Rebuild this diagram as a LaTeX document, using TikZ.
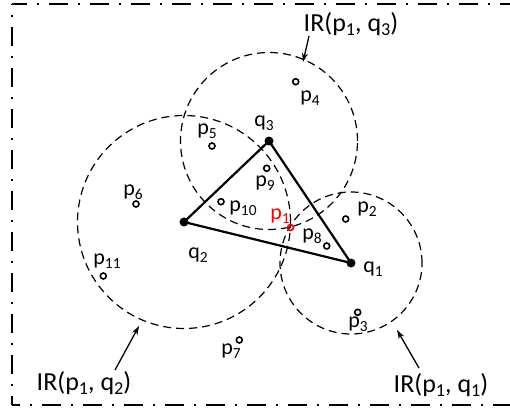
\documentclass[tikz,border=0pt]{standalone}
\usepackage{fontspec}
\setmainfont{Carlito}
\usepackage{graphicx}
\usetikzlibrary{arrows.meta}
\newcommand\sbs[1]{\raisebox{-0.35ex}{\scalebox{0.7}{#1}}}
\tikzset{
 irc/.style={dash pattern=on 8pt off 5pt, line width=1.2pt},
 opt/.style={circle, draw, line width=1.6pt, inner sep=0pt, minimum size=6pt},
 qv/.style={circle, fill, inner sep=0pt, minimum size=9pt},
 lbl/.style={inner sep=0pt, font=\fontsize{22}{26}\selectfont},
 irl/.style={inner sep=0pt, font=\fontsize{26}{30}\selectfont},
 arr/.style={-{Stealth[length=9pt,width=6pt]}, line width=1.3pt},
 framel/.style={line width=2.5pt, dash pattern=on 19pt off 10pt on 2pt off 10pt},
 tri/.style={line width=2.2pt}
}
\begin{document}
\begin{tikzpicture}[x=1pt,y=-1pt]
\useasboundingbox (0,0) rectangle (510,409);
% frame
\draw[framel, dash phase=4pt] (12,4) -- (530,4);
\draw[framel, dash phase=18pt] (12,4) -- (12,405);
\draw[framel, dash phase=11pt] (12,405) -- (530,405);
% vertices
\coordinate (q1) at (351,263);
\coordinate (q2) at (184,222);
\coordinate (q3) at (269,141);
% circles
\draw[irc] (q3) circle (88.5pt);
\draw[irc] (q2) circle (106.5pt);
\draw[irc] (q1) circle (71pt);
% triangle
\draw[tri] (q1) -- (q2) -- (q3) -- cycle;
\node[qv] (v1) at (q1) {};
\node[qv] (v2) at (q2) {};
\node[qv] (v3) at (q3) {};
% points
\node[opt, draw=red] (p1) at (290.5,227.5) {};
\node[opt] (p2) at (345.7,219) {};
\node[opt] (p3) at (357.7,312.3) {};
\node[opt] (p4) at (295.7,81.7) {};
\node[opt] (p5) at (212,146) {};
\node[opt] (p6) at (136,204) {};
\node[opt] (p7) at (239.3,340) {};
\node[opt] (p8) at (326.7,246) {};
\node[opt] (p9) at (266.7,168.3) {};
\node[opt] (p10) at (221,201.7) {};
\node[opt] (p11) at (103.3,276) {};
% labels
\node[lbl] (lq3) at (264,123) {q\sbs{3}};
\node[lbl] (lq2) at (198,255) {q\sbs{2}};
\node[lbl] (lq1) at (373,269) {q\sbs{1}};
\node[lbl, text=red] (lp1) at (280,216) {p\sbs{1}};
\node[lbl] (lp2) at (367,209) {p\sbs{2}};
\node[lbl] (lp3) at (358,324) {p\sbs{3}};
\node[lbl] (lp4) at (310,98) {p\sbs{4}};
\node[lbl] (lp5) at (207,131) {p\sbs{5}};
\node[lbl] (lp6) at (133,192) {p\sbs{6}};
\node[lbl] (lp7) at (231,351) {p\sbs{7}};
\node[lbl] (lp8) at (312,236) {p\sbs{8}};
\node[lbl] (lp9) at (265,183) {p\sbs{9}};
\node[lbl] (lp10) at (243,208) {p\sbs{10}};
\node[lbl] (lp11) at (107,261) {p\sbs{11}};
% IR labels
\node[irl] (ir3) at (351,24) {IR(p\sbs{1}, q\sbs{3})};
\node[irl] (ir2) at (84,383) {IR(p\sbs{1}, q\sbs{2})};
\node[irl] (ir1) at (441,385) {IR(p\sbs{1}, q\sbs{1})};
\coordinate (t3s) at (309,36);
\coordinate (t3) at (303,62);
\coordinate (t2s) at (115,370);
\coordinate (t2) at (139,326);
\coordinate (t1s) at (419,368);
\coordinate (t1) at (397,330);
\draw[arr] (t3s) -- (t3);
\draw[arr] (t2s) -- (t2);
\draw[arr] (t1s) -- (t1);
\end{tikzpicture}
\end{document}
